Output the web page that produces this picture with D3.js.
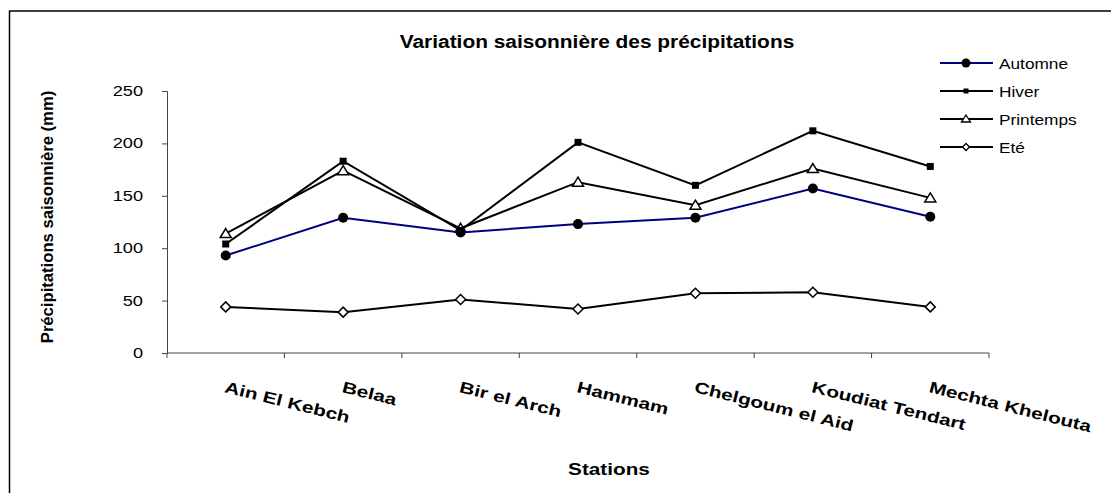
<!DOCTYPE html>
<html><head><meta charset="utf-8">
<script src="https://cdn.jsdelivr.net/npm/d3@7"></script>
<style>body{margin:0;background:#fff;}svg{display:block;font-family:Arial,"Liberation Sans",sans-serif;}</style>
</head><body><svg id="c" width="1111" height="493"></svg>
<script>
const stations = ["Ain El Kebch","Belaa","Bir el Arch","Hammam","Chelgoum el Aid","Koudiat Tendart","Mechta Khelouta"];
const automne = [93,129,115,123,129,157,130];
const hiver = [104,183,117,201,160,212,178];
const printemps = [114,174,119,163,141,176,148];
const ete = [44,39,51,42,57,58,44];
const yTicks = [0,50,100,150,200,250];
const seriesNames = ["Automne","Hiver","Printemps","Eté"];

function stretch(sel, f){
  sel.each(function(){
    const l = this.getComputedTextLength();
    this.setAttribute("textLength", l*f);
    this.setAttribute("lengthAdjust","spacingAndGlyphs");
  });
}

const svg = d3.select("#c");
svg.append("rect").attr("x",9.5).attr("y",11).attr("width",1200).attr("height",600)
  .attr("fill","#fff").attr("stroke","#000").attr("stroke-width",1.5);

const L=167, R=989, T=91, B=353;
const x = d3.scaleBand().domain(stations).range([L,R]);
const y = d3.scaleLinear().domain([0,250]).range([B,T]);

// axes
const ya = d3.axisLeft(y).tickValues(yTicks).tickSize(5).tickPadding(19);
const gy = svg.append("g").attr("transform",`translate(${L},0)`).call(ya);
gy.select(".domain").attr("stroke","#444");
gy.selectAll(".tick line").attr("stroke","#444");
gy.selectAll("text").attr("font-size",14).attr("fill","#000").attr("font-family","Arial, 'Liberation Sans', sans-serif");
stretch(gy.selectAll("text"),1.3);

const gx = svg.append("g").attr("transform",`translate(0,${B})`);
gx.append("line").attr("x1",L).attr("x2",R).attr("y1",0).attr("y2",0).attr("stroke","#444");
const bounds = stations.map(s=>x(s)).concat([R]);
gx.selectAll("line.t").data(bounds).enter().append("line").attr("class","t")
  .attr("x1",d=>d).attr("x2",d=>d).attr("y1",0).attr("y2",5).attr("stroke","#444");
const xl = gx.selectAll("text").data(stations).enter().append("text")
  .attr("transform",d=>`translate(${x(d)+x.bandwidth()/2-2},${392-B}) rotate(14)`)
  .attr("font-size",16).attr("font-weight","bold").attr("fill","#000").text(d=>d);
stretch(xl,1.3);

// titles
stretch(svg.append("text").attr("x",597).attr("y",48).attr("text-anchor","middle")
  .attr("font-size",18).attr("font-weight","bold").text("Variation saisonnière des précipitations"),1.16);
stretch(svg.append("text").attr("x",609).attr("y",475).attr("text-anchor","middle")
  .attr("font-size",17).attr("font-weight","bold").text("Stations"),1.22);
stretch(svg.append("text").attr("transform","translate(53,217) rotate(-90)").attr("text-anchor","middle")
  .attr("font-size",16).attr("font-weight","bold").text("Précipitations saisonnière (mm)"),1.04);

const cx = d=>x(d)+x.bandwidth()/2;
const data = [automne,hiver,printemps,ete];
const colors = ["#000080","#000","#000","#000"];
const line = d3.line().x((v,i)=>cx(stations[i])).y(v=>y(v));

function marker(g, k, px, py){
  if(k===0) g.append("circle").attr("cx",px).attr("cy",py).attr("r",5).attr("fill","#000");
  else if(k===1) g.append("rect").attr("x",px-3.5).attr("y",py-3.5).attr("width",7).attr("height",7).attr("fill","#000");
  else if(k===2) g.append("path").attr("d",`M${px},${py-5}L${px+5.5},${py+4}L${px-5.5},${py+4}Z`).attr("fill","#fff").attr("stroke","#000").attr("stroke-width",1.5);
  else g.append("path").attr("d",`M${px},${py-5}L${px+5},${py}L${px},${py+5}L${px-5},${py}Z`).attr("fill","#fff").attr("stroke","#000").attr("stroke-width",1.5);
}
function legMarker(g,k,px,py){
  if(k===0) g.append("circle").attr("cx",px).attr("cy",py).attr("r",4.5).attr("fill","#000");
  else if(k===1) g.append("rect").attr("x",px-2.5).attr("y",py-2.5).attr("width",5).attr("height",5).attr("fill","#000");
  else if(k===2) g.append("path").attr("d",`M${px},${py-4}L${px+4.5},${py+3}L${px-4.5},${py+3}Z`).attr("fill","#fff").attr("stroke","#000").attr("stroke-width",1.3);
  else g.append("path").attr("d",`M${px},${py-3.5}L${px+3.5},${py}L${px},${py+3.5}L${px-3.5},${py}Z`).attr("fill","#fff").attr("stroke","#000").attr("stroke-width",1.3);
}
[3,2,1,0].forEach(k=>{
  const g = svg.append("g");
  g.append("path").attr("d",line(data[k])).attr("fill","none").attr("stroke",colors[k]).attr("stroke-width",2);
  data[k].forEach((v,i)=>marker(g,k,cx(stations[i]),y(v)));
});

// legend
seriesNames.forEach((n,k)=>{
  const ly = 63 + k*28;
  const g = svg.append("g");
  g.append("line").attr("x1",940).attr("x2",993).attr("y1",ly).attr("y2",ly).attr("stroke",colors[k]).attr("stroke-width",2);
  legMarker(g,k,966,ly);
  stretch(g.append("text").attr("x",999).attr("y",ly+5.5).attr("font-size",15).text(n),1.15);
});
</script></body></html>
